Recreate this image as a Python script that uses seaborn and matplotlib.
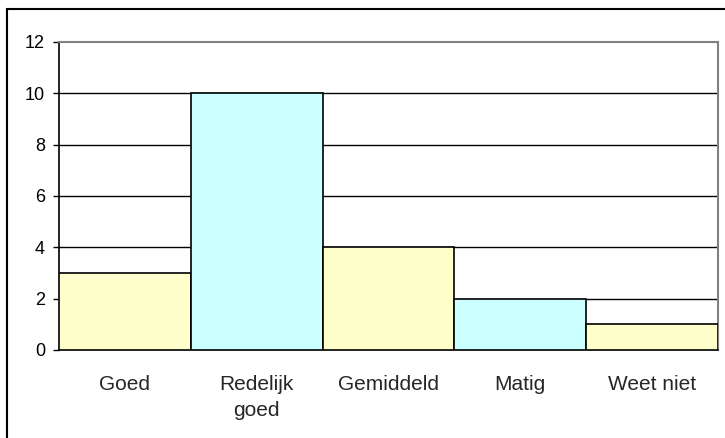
import matplotlib
matplotlib.use("Agg")
import matplotlib.pyplot as plt
import seaborn as sns
import pandas as pd
from matplotlib.patches import Rectangle

categories = ["Goed", "Redelijk\ngoed", "Gemiddeld", "Matig", "Weet niet"]
counts = [3, 10, 4, 2, 1]
bar_colors = ["#FFFFCC", "#CCFFFF", "#FFFFCC", "#CCFFFF", "#FFFFCC"]

sns.set_style("white")
plt.rcParams['font.family'] = ['Liberation Sans', 'DejaVu Sans']

df = pd.DataFrame({"cat": categories, "n": counts})

fig = plt.figure(figsize=(7.25, 4.38), dpi=100)
ax = fig.add_axes([59 / 725, 1 - 350 / 438, (718 - 59) / 725, (350 - 42) / 438])

sns.barplot(data=df, x="cat", y="n", hue="cat", palette=bar_colors, legend=False,
            saturation=1, width=1.0, edgecolor="black", linewidth=1.2, ax=ax, zorder=3)

ax.set_ylim(0, 12)
ax.set_xlim(-0.5, 4.5)
ax.set_yticks(range(0, 13, 2))
for y in range(2, 12, 2):
    ax.axhline(y, color="black", linewidth=1, zorder=1)

ax.set_xlabel("")
ax.set_ylabel("")
ax.tick_params(axis="y", which="both", left=True, length=4, width=1, pad=6, labelsize=13, colors="black")
ax.tick_params(axis="x", length=0, pad=18, labelsize=15)
for lbl in ax.get_xticklabels():
    lbl.set_linespacing(1.45)

for side in ["top", "right"]:
    ax.spines[side].set_color("#808080")
    ax.spines[side].set_linewidth(1.5)
for side in ["left", "bottom"]:
    ax.spines[side].set_color("black")
    ax.spines[side].set_linewidth(1.2)

# outer chart frame
fig.patches.append(Rectangle((7 / 725, -0.1), 1.2, 1 - 9 / 438 + 0.1, transform=fig.transFigure,
                             fill=False, edgecolor="black", linewidth=1.5))

fig.savefig("out.png", dpi=100)
